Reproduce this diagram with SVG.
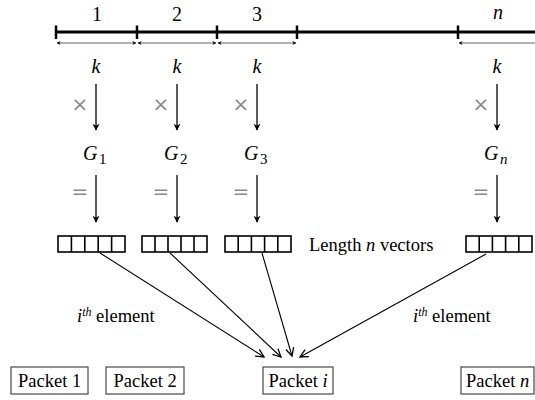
<svg xmlns="http://www.w3.org/2000/svg" width="535" height="400" viewBox="0 0 535 400">
<defs>
<marker id="ah" viewBox="0 0 10 10" refX="9" refY="5" markerWidth="7" markerHeight="7" markerUnits="userSpaceOnUse" orient="auto">
<path d="M0,0 L10,5 L0,10 L3,5 Z" fill="#000"/>
</marker>
<marker id="sh" viewBox="0 0 10 10" refX="9" refY="5" markerWidth="5" markerHeight="4" markerUnits="userSpaceOnUse" orient="auto-start-reverse">
<path d="M0,0 L10,5 L0,10 L3,5 Z" fill="#000"/>
</marker>
<marker id="oh" viewBox="0 0 10 10" refX="9" refY="5" markerWidth="10" markerHeight="10" markerUnits="userSpaceOnUse" orient="auto">
<path d="M1,1 L9,5 L1,9" fill="none" stroke="#000" stroke-width="1.3"/>
</marker>
</defs>
<style>
.bar{stroke:#000;stroke-width:3;fill:none}
.tick{stroke:#000;stroke-width:2.5;fill:none}
.dim{stroke:#000;stroke-width:0.6;fill:none;marker-start:url(#sh);marker-end:url(#sh)}
.varr{stroke:#000;stroke-width:1.3;fill:none;marker-end:url(#ah)}
.vec{fill:#fff;stroke:#000;stroke-width:1.6}
.cell{stroke:#000;stroke-width:1.6}
.pk{fill:#fff;stroke:#555;stroke-width:1.3}
.conn{stroke:#000;stroke-width:1.1;fill:none;marker-end:url(#oh)}
</style>
<g id="axis">
<line class="bar" x1="56" y1="32" x2="535" y2="32"/>
<line class="tick" x1="56" y1="25.5" x2="56" y2="39"/>
<line class="tick" x1="137" y1="25.5" x2="137" y2="39"/>
<line class="tick" x1="217" y1="25.5" x2="217" y2="39"/>
<line class="tick" x1="297" y1="25.5" x2="297" y2="39"/>
<line class="tick" x1="458" y1="25.5" x2="458" y2="39"/>
<line class="dim" x1="57" y1="43" x2="136" y2="43"/>
<line class="dim" x1="138" y1="43" x2="216" y2="43"/>
<line class="dim" x1="218" y1="43" x2="296" y2="43"/>
<line class="dim" x1="459" y1="43" x2="540" y2="43"/>
<text x="92" y="21" font-family="Liberation Serif" font-size="20">1</text>
<text x="172" y="21" font-family="Liberation Serif" font-size="20">2</text>
<text x="252" y="21" font-family="Liberation Serif" font-size="20">3</text>
<text x="493" y="19" font-family="Liberation Serif" font-size="20" font-style="italic">n</text>
</g>
<g id="col1">
<text x="91.5" y="73" font-family="Liberation Serif" font-size="20" font-style="italic">k</text>
<text x="71.6" y="111" font-family="DejaVu Sans" font-size="20" fill="#8a8a8a">×</text>
<line class="varr" x1="96" y1="84" x2="96" y2="130"/>
<text x="83" y="160" font-family="Liberation Serif" font-size="20" font-style="italic">G</text>
<text x="99" y="164" font-family="Liberation Serif" font-size="15">1</text>
<text x="71.6" y="198" font-family="DejaVu Sans" font-size="20" fill="#8a8a8a">=</text>
<line class="varr" x1="96" y1="175" x2="96" y2="222"/>
</g>
<g id="col2">
<text x="172.5" y="73" font-family="Liberation Serif" font-size="20" font-style="italic">k</text>
<text x="152.6" y="111" font-family="DejaVu Sans" font-size="20" fill="#8a8a8a">×</text>
<line class="varr" x1="177" y1="84" x2="177" y2="130"/>
<text x="164" y="160" font-family="Liberation Serif" font-size="20" font-style="italic">G</text>
<text x="180" y="164" font-family="Liberation Serif" font-size="15">2</text>
<text x="152.6" y="198" font-family="DejaVu Sans" font-size="20" fill="#8a8a8a">=</text>
<line class="varr" x1="177" y1="175" x2="177" y2="222"/>
</g>
<g id="col3">
<text x="252.5" y="73" font-family="Liberation Serif" font-size="20" font-style="italic">k</text>
<text x="232.6" y="111" font-family="DejaVu Sans" font-size="20" fill="#8a8a8a">×</text>
<line class="varr" x1="257" y1="84" x2="257" y2="130"/>
<text x="244" y="160" font-family="Liberation Serif" font-size="20" font-style="italic">G</text>
<text x="260" y="164" font-family="Liberation Serif" font-size="15">3</text>
<text x="232.6" y="198" font-family="DejaVu Sans" font-size="20" fill="#8a8a8a">=</text>
<line class="varr" x1="257" y1="175" x2="257" y2="222"/>
</g>
<g id="coln">
<text x="492.5" y="73" font-family="Liberation Serif" font-size="20" font-style="italic">k</text>
<text x="472.6" y="111" font-family="DejaVu Sans" font-size="20" fill="#8a8a8a">×</text>
<line class="varr" x1="497" y1="84" x2="497" y2="130"/>
<text x="484" y="160" font-family="Liberation Serif" font-size="20" font-style="italic">G</text>
<text x="500" y="164" font-family="Liberation Serif" font-size="15" font-style="italic">n</text>
<text x="472.6" y="198" font-family="DejaVu Sans" font-size="20" fill="#8a8a8a">=</text>
<line class="varr" x1="497" y1="175" x2="497" y2="222"/>
</g>
<g id="vec1">
<rect class="vec" x="58" y="236" width="67" height="16"/>
<line class="cell" x1="71.4" y1="236" x2="71.4" y2="252"/>
<line class="cell" x1="84.8" y1="236" x2="84.8" y2="252"/>
<line class="cell" x1="98.2" y1="236" x2="98.2" y2="252"/>
<line class="cell" x1="111.6" y1="236" x2="111.6" y2="252"/>
</g>
<g id="vec2">
<rect class="vec" x="142" y="236" width="65" height="16"/>
<line class="cell" x1="155" y1="236" x2="155" y2="252"/>
<line class="cell" x1="168" y1="236" x2="168" y2="252"/>
<line class="cell" x1="181" y1="236" x2="181" y2="252"/>
<line class="cell" x1="194" y1="236" x2="194" y2="252"/>
</g>
<g id="vec3">
<rect class="vec" x="225" y="236" width="66" height="16"/>
<line class="cell" x1="238.2" y1="236" x2="238.2" y2="252"/>
<line class="cell" x1="251.4" y1="236" x2="251.4" y2="252"/>
<line class="cell" x1="264.6" y1="236" x2="264.6" y2="252"/>
<line class="cell" x1="277.8" y1="236" x2="277.8" y2="252"/>
</g>
<g id="vecn">
<rect class="vec" x="466" y="236" width="66" height="16"/>
<line class="cell" x1="479.2" y1="236" x2="479.2" y2="252"/>
<line class="cell" x1="492.4" y1="236" x2="492.4" y2="252"/>
<line class="cell" x1="505.6" y1="236" x2="505.6" y2="252"/>
<line class="cell" x1="518.8" y1="236" x2="518.8" y2="252"/>
</g>
<g id="labels">
<text x="309" y="251" font-family="Liberation Serif" font-size="18.5">Length <tspan font-style="italic">n</tspan> vectors</text>
<text x="77" y="322" font-family="Liberation Serif" font-size="18.5"><tspan font-style="italic">i</tspan><tspan font-style="italic" font-size="12" dy="-6">th</tspan><tspan dy="6"> element</tspan></text>
<text x="413" y="322" font-family="Liberation Serif" font-size="18.5"><tspan font-style="italic">i</tspan><tspan font-style="italic" font-size="12" dy="-6">th</tspan><tspan dy="6"> element</tspan></text>
</g>
<g id="connectors">
<line class="conn" x1="100" y1="253" x2="264" y2="357"/>
<line class="conn" x1="170" y1="253" x2="281" y2="357"/>
<line class="conn" x1="262" y1="253" x2="292" y2="356"/>
<line class="conn" x1="486" y1="254" x2="300" y2="357"/>
</g>
<g id="packet1">
<rect class="pk" x="11" y="367" width="77" height="27"/>
<text x="18" y="387" font-family="Liberation Serif" font-size="18.5">Packet 1</text>
</g>
<g id="packet2">
<rect class="pk" x="106" y="367" width="78" height="27"/>
<text x="113.5" y="387" font-family="Liberation Serif" font-size="18.5">Packet 2</text>
</g>
<g id="packeti">
<rect class="pk" x="263" y="367" width="70" height="27"/>
<text x="268.5" y="387" font-family="Liberation Serif" font-size="18.5">Packet <tspan font-style="italic">i</tspan></text>
</g>
<g id="packetn">
<rect class="pk" x="461" y="367" width="73" height="27"/>
<text x="466" y="387" font-family="Liberation Serif" font-size="18.5">Packet <tspan font-style="italic">n</tspan></text>
</g>
</svg>
